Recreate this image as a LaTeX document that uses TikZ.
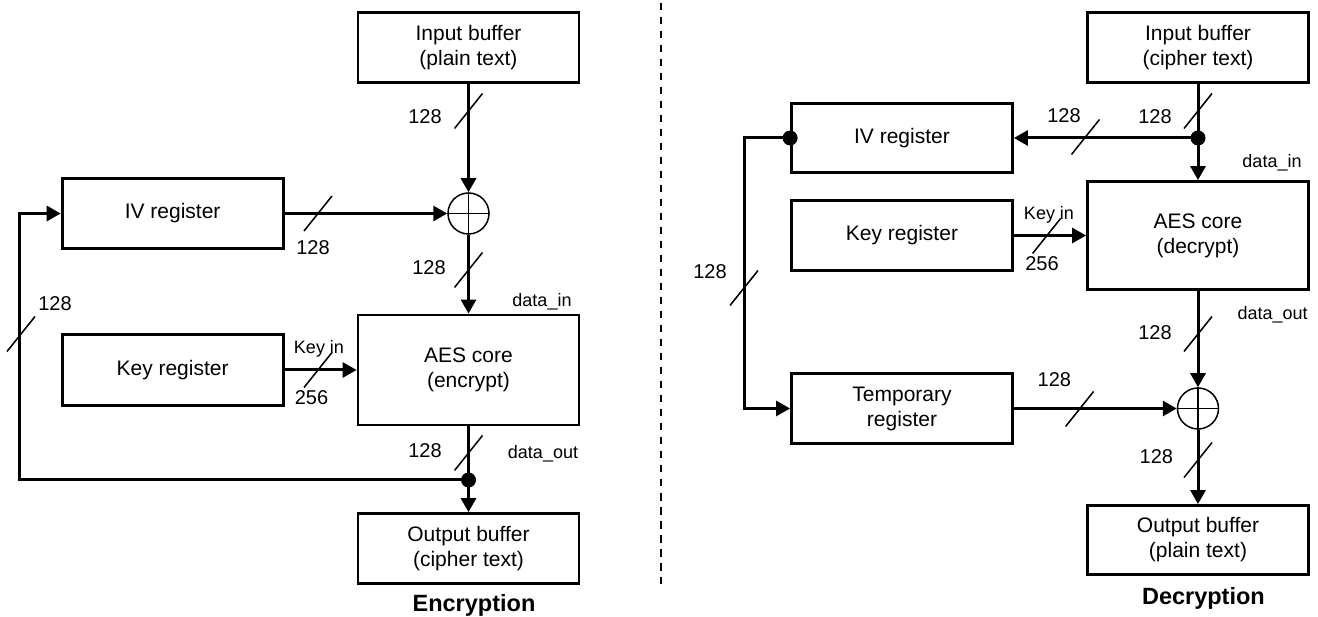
\documentclass[tikz,border=0pt]{standalone}
\usepackage{fontspec}
\setmainfont{Liberation Sans}
\usetikzlibrary{arrows.meta}
\newcommand{\busslash}[2]{\draw[slashline] (#1,#2) ++(-14,17.5) -- ++(28,-35);}
\begin{document}
\begin{tikzpicture}[x=1pt,y=-1pt,
 box/.style={draw, line width=2.8pt, minimum width=221pt, inner sep=0pt, align=center, font=\fontsize{21}{25}\selectfont},
 conn/.style={line width=3pt},
 arr/.style={conn, -{Triangle[length=14pt,width=15pt]}},
 xor/.style={draw, circle, line width=1.5pt, minimum size=41pt, inner sep=0pt},
 slashline/.style={line width=1.5pt},
 num/.style={font=\fontsize{20}{24}\selectfont, inner sep=0pt, text height=14.4pt, text depth=0pt},
 lab/.style={font=\fontsize{18}{22}\selectfont, inner sep=0pt, text height=13pt, text depth=0pt},
 ttl/.style={font=\fontsize{23.5}{28}\selectfont\bfseries, inner sep=0pt, text height=17pt, text depth=0pt},
 jdot/.style={circle, fill, inner sep=0pt, minimum size=15pt}]
\useasboundingbox (0,0) rectangle (1318,617);

% divider
\draw[line width=2pt, dash pattern=on 7.5pt off 6.5pt] (661,3) -- (661,584);

% ---------------- Encryption ----------------
\node[box, minimum height=70pt] (inL) at (468.5,47.5) {Input buffer\\(plain text)};
\node[box, minimum height=70pt] (ivL) at (172.6,213.5) {IV register};
\node[xor] (xorL) at (468.5,213.5) {};
\node[box, minimum height=71pt] (keyL) at (172.6,370) {Key register};
\node[box, minimum height=110pt] (aesL) at (468.5,370) {AES core\\(encrypt)};
\node[box, minimum height=70pt] (outL) at (468.5,548.5) {Output buffer\\(cipher text)};
\coordinate (dotL) at (468.5,480);
\coordinate (fbL) at (19.4,480);

\draw[line width=1.5pt] (xorL.north) -- (xorL.south) (xorL.west) -- (xorL.east);
\draw[arr] (inL.south) -- (xorL.north);
\draw[arr] (ivL.east) -- (xorL.west);
\draw[arr] (xorL.south) -- (aesL.north);
\draw[arr] (keyL.east) -- (aesL.west);
\draw[conn] (aesL.south) -- (dotL);
\draw[arr] (dotL) -- (outL.north);
\draw[arr] (dotL) -- (fbL) |- (ivL.west);
\node[jdot] at (dotL) {};

\busslash{468.5}{111}
\busslash{318}{213.5}
\busslash{468.5}{270}
\busslash{21}{334}
\busslash{318}{370}
\busslash{468.5}{453}

\node[num] at (425,116) {128};
\node[num] at (313,247) {128};
\node[num] at (429,267) {128};
\node[lab] at (542,300) {data\_in};
\node[num] at (55,303) {128};
\node[lab] at (319,347) {Key in};
\node[num] at (311.5,397) {256};
\node[num] at (425,450) {128};
\node[lab] at (543,452) {data\_out};
\node[ttl] at (474,603) {Encryption};

% ---------------- Decryption ----------------
\node[box, minimum height=70pt] (inR) at (1198,47.5) {Input buffer\\(cipher text)};
\node[box, minimum height=69pt] (ivR) at (902,138) {IV register};
\node[box, minimum height=108pt] (aesR) at (1198,235.5) {AES core\\(decrypt)};
\node[box, minimum height=70pt] (keyR) at (902,235.5) {Key register};
\node[box, minimum height=70pt] (tmpR) at (902,408.5) {Temporary\\register};
\node[xor] (xorR) at (1198,408.5) {};
\node[box, minimum height=69pt] (outR) at (1198,540) {Output buffer\\(plain text)};
\coordinate (dotR) at (1198,138);
\coordinate (fbR) at (744,138);

\draw[line width=1.5pt] (xorR.north) -- (xorR.south) (xorR.west) -- (xorR.east);
\draw[conn] (inR.south) -- (dotR);
\draw[arr] (dotR) -- (aesR.north);
\draw[arr] (dotR) -- (ivR.east);
\draw[arr] (keyR.east) -- (aesR.west);
\draw[arr] (ivR.west) -- (fbR) |- (tmpR.west);
\draw[arr] (tmpR.east) -- (xorR.west);
\draw[arr] (aesR.south) -- (xorR.north);
\draw[arr] (xorR.south) -- (outR.north);
\node[jdot] at (dotR) {};
\node[jdot] at (ivR.west) {};

\busslash{1198}{111}
\busslash{1085.5}{137}
\busslash{1046.6}{236}
\busslash{744}{288}
\busslash{1198}{334}
\busslash{1079.6}{409}
\busslash{1198}{460}

\node[num] at (1155,116) {128};
\node[num] at (1064,115) {128};
\node[lab] at (1272,161) {data\_in};
\node[lab] at (1049,213) {Key in};
\node[num] at (1042,263) {256};
\node[num] at (710,271) {128};
\node[lab] at (1272.6,313) {data\_out};
\node[num] at (1155,332) {128};
\node[num] at (1054.4,379) {128};
\node[num] at (1156.4,456) {128};
\node[ttl] at (1203.4,596) {Decryption};
\end{tikzpicture}
\end{document}
